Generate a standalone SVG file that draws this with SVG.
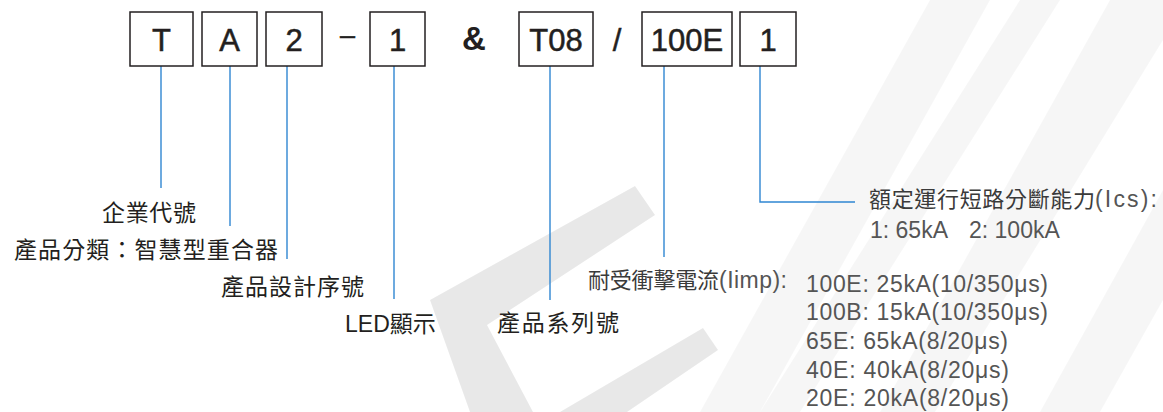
<svg xmlns="http://www.w3.org/2000/svg" width="1163" height="412" viewBox="0 0 1163 412">
<style>
.box{fill:none;stroke:#231f20;stroke-width:1.5}
.bt{font-family:"Liberation Sans",Arial,sans-serif;font-size:31px;fill:#231f20;stroke:#231f20;stroke-width:0.5;text-anchor:middle}
.amp{font-family:"Liberation Sans",Arial,sans-serif;font-size:33px;font-weight:bold;fill:#231f20;text-anchor:middle}
.lbl{font-family:"Noto Sans CJK TC","Noto Sans CJK SC",sans-serif;font-size:23px;fill:#231f20}
.lat{font-family:"Liberation Sans",Arial,sans-serif}
.rl{font-family:"Noto Sans CJK TC","Noto Sans CJK SC",sans-serif;font-size:22px;fill:#3a3a3a}
.num{font-family:"Liberation Sans",Arial,sans-serif;font-size:23px;fill:#555}
.con{fill:none;stroke:#2f86d2;stroke-width:1.4}
.wm{fill:#000;opacity:0.09}
.wm2{fill:#000;opacity:0.035}
</style>
<rect width="1163" height="412" fill="#fff"/>
<g id="watermark">
  <polygon class="wm" points="430,300 635,186 655,215 487,325 533,412 470,412"/>
  <polygon class="wm" points="560,412 703,328 718,350 627,412"/>
  <polygon class="wm2" points="700,412 760,412 990,0 930,0"/>
  <polygon class="wm2" points="880,412 935,412 1163,40 1163,-50 1110,0"/>
  <polygon class="wm2" points="1040,412 1100,412 1163,300 1163,190"/>
  <polygon class="wm2" points="760,412 800,412 1060,0 1020,0"/>
</g>
<g id="connectors">
  <line class="con" x1="161" y1="66" x2="161" y2="188"/>
  <line class="con" x1="230" y1="66" x2="230" y2="226"/>
  <line class="con" x1="287" y1="66" x2="287" y2="259"/>
  <line class="con" x1="394" y1="66" x2="394" y2="299"/>
  <line class="con" x1="550" y1="66" x2="550" y2="300"/>
  <line class="con" x1="664" y1="66" x2="664" y2="257"/>
  <polyline class="con" points="760,66 760,202 855,202"/>
</g>
<g id="box-T"><rect class="box" x="130" y="12" width="63" height="54"/><text class="bt" x="161.5" y="51">T</text></g>
<g id="box-A"><rect class="box" x="202" y="12" width="55" height="54"/><text class="bt" x="229.5" y="51">A</text></g>
<g id="box-2"><rect class="box" x="266" y="12" width="56" height="54"/><text class="bt" x="294" y="51">2</text></g>
<g id="sep-dash"><text class="bt" x="347.5" y="44" style="font-size:27px">–</text></g>
<g id="box-1"><rect class="box" x="370" y="12" width="55" height="54"/><text class="bt" x="397.5" y="51">1</text></g>
<g id="sep-amp"><text class="amp" x="474" y="50">&amp;</text></g>
<g id="box-T08"><rect class="box" x="519" y="12" width="74" height="54"/><text class="bt" x="556" y="51">T08</text></g>
<g id="sep-slash"><text class="bt" x="617" y="51">/</text></g>
<g id="box-100E"><rect class="box" x="642" y="12" width="90" height="54"/><text class="bt" x="687" y="51">100E</text></g>
<g id="box-1b"><rect class="box" x="740" y="12" width="56" height="54"/><text class="bt" x="768" y="51">1</text></g>

<g id="label-company"><text class="lbl" x="102" y="221" textLength="94">企業代號</text></g>
<g id="label-category"><text class="lbl" x="14" y="258" textLength="264">產品分類：智慧型重合器</text></g>
<g id="label-design"><text class="lbl" x="221" y="295" textLength="143">產品設計序號</text></g>
<g id="label-led"><text class="lbl" x="345" y="332"><tspan class="lat">LED</tspan>顯示</text></g>
<g id="label-series"><text class="lbl" x="497" y="331" textLength="122">產品系列號</text></g>
<g id="label-imp">
  <text class="rl" x="588" y="288" textLength="131">耐受衝擊電流</text>
  <text class="num" x="719" y="288" textLength="68">(Iimp):</text>
  <text class="num" x="806" y="291.5" textLength="242">100E: 25kA(10/350μs)</text>
  <text class="num" x="806" y="320" textLength="242">100B: 15kA(10/350μs)</text>
  <text class="num" x="806" y="349" textLength="202">65E: 65kA(8/20μs)</text>
  <text class="num" x="806" y="377.5" textLength="203">40E: 40kA(8/20μs)</text>
  <text class="num" x="806" y="406" textLength="203">20E: 20kA(8/20μs)</text>
</g>
<g id="label-ics">
  <text class="rl" x="869" y="207" textLength="226">額定運行短路分斷能力</text>
  <text class="num" x="1095" y="207" textLength="62">(Ics):</text>
  <text class="num" x="870" y="238">1: 65kA</text>
  <text class="num" x="969" y="238">2: 100kA</text>
</g>
</svg>
